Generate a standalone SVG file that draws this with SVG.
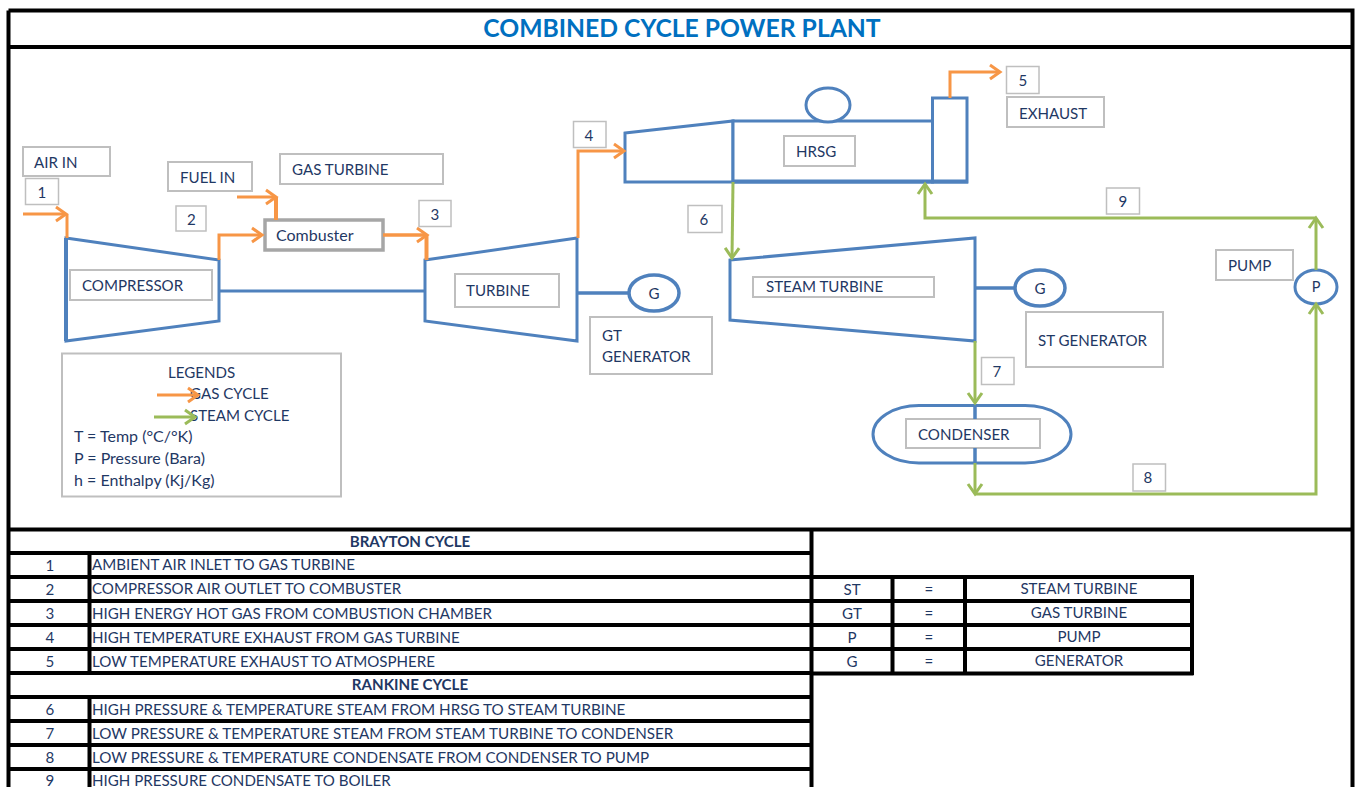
<svg xmlns="http://www.w3.org/2000/svg" width="1361" height="787" viewBox="0 0 1361 787">
<style>
text{font-family:"Lato","Open Sans","Liberation Sans",sans-serif;font-size:15.100px;fill:#1f3864}
.c{text-anchor:middle}
.b{font-weight:700}
.m{font-size:16px}
.r{font-size:15.200px}
.box{fill:#fff;stroke:#bfbfbf;stroke-width:2}
.eq{fill:#fff;stroke:#4f81bd;stroke-width:3;stroke-linejoin:miter}
.thin{fill:none;stroke:#4f81bd;stroke-width:3}
.o{fill:none;stroke:#f79646;stroke-width:3}
.g{fill:none;stroke:#9bbb59;stroke-width:3}
.ln{fill:none;stroke:#000;stroke-width:4}
</style>
<defs>
<marker id="ao" markerUnits="userSpaceOnUse" markerWidth="16" markerHeight="20" refX="13" refY="10" orient="auto"><path d="M3 3L13 10L3 17" fill="none" stroke="#f79646" stroke-width="3"/></marker>
<marker id="ag" markerUnits="userSpaceOnUse" markerWidth="16" markerHeight="20" refX="13" refY="10" orient="auto"><path d="M3 3L13 10L3 17" fill="none" stroke="#9bbb59" stroke-width="3"/></marker>
</defs>
<rect width="1361" height="787" fill="#fff"/>
<g id="frame" class="ln">
<path d="M8.500 10.500H1352.500V787M8.500 10.500V787M8 47H1353M8 529.500H1353"/>
</g>
<text id="title" x="682" y="37" class="c b" style="font-size:24.700px;fill:#0070c0">COMBINED CYCLE POWER PLANT</text>

<g id="compressor"><path class="eq" d="M66 238L219 260V321L66 341Z"/><path class="thin" d="M66 238V341" style="stroke-width:4"/><rect class="box" x="70" y="270" width="142" height="30"/><text x="82" y="291">COMPRESSOR</text></g>
<g id="combuster"><rect x="265" y="220" width="118" height="30" fill="#fff" stroke="#a6a6a6" stroke-width="3.500"/><text x="276" y="241" class="m">Combuster</text></g>
<g id="turbine"><path class="eq" d="M425 260L577 238V341L425 321Z"/><rect class="box" x="455" y="274" width="104" height="33"/><text x="466" y="296">TURBINE</text></g>
<g id="gt-generator"><ellipse class="eq" cx="654" cy="293" rx="25" ry="18" style="stroke-width:3.500"/><text x="654" y="299" class="c">G</text></g>
<g id="hrsg"><path class="eq" d="M625 133L733 121V182H625Z"/><rect class="eq" x="733" y="121" width="199.500" height="61"/><ellipse class="eq" cx="828" cy="105" rx="22" ry="17"/><rect class="eq" x="932.500" y="98" width="34.500" height="84"/><path class="thin" d="M733 181.500H968" style="stroke-width:4"/><rect class="box" x="784" y="136" width="71" height="30"/><text x="796" y="157">HRSG</text></g>
<g id="steam-turbine"><path class="eq" d="M730 260L975 238V341L730 320Z"/><rect class="box" x="753" y="277" width="181" height="20"/><text x="766" y="292">STEAM TURBINE</text></g>
<g id="st-generator"><ellipse class="eq" cx="1040" cy="288" rx="25" ry="18" style="stroke-width:3.500"/><text x="1040" y="294" class="c">G</text></g>
<g id="condenser"><rect class="eq" x="873" y="405.500" width="198" height="57.500" rx="46" ry="28.750"/><rect class="box" x="906" y="419" width="134" height="29"/><text x="918" y="440">CONDENSER</text></g>
<g id="pump"><ellipse class="eq" cx="1316" cy="287" rx="21" ry="17"/><text x="1316" y="292" class="c" style="font-size:14.500px">P</text></g>

<g id="connectors">
<path class="thin" d="M219 291H425"/>
<path class="thin" d="M578 293H629" style="stroke-width:3.500"/>
<path class="thin" d="M975 288H1015" style="stroke-width:3.500"/>
<path class="thin" d="M975 405V419M975 448V463" style="stroke-width:3.500"/>
<path class="o" d="M23 214H66" marker-end="url(#ao)"/><path class="o" d="M67 214V238"/>
<path class="o" d="M237 197H276" marker-end="url(#ao)"/><path class="o" d="M276 197V220" style="stroke-width:4"/>
<path class="o" d="M219 260V235H262" marker-end="url(#ao)"/>
<path class="o" d="M383 235H427" marker-end="url(#ao)" style="stroke-width:3.500"/><path class="o" d="M426.500 235V260" style="stroke-width:4"/>
<path class="o" d="M578 238V151H624" marker-end="url(#ao)"/>
<path class="o" d="M950 98V72H1000" marker-end="url(#ao)"/>
<path class="g" d="M733 182L732 258" marker-end="url(#ag)"/>
<path class="g" d="M975 341V403" marker-end="url(#ag)"/>
<path class="g" d="M975 463V494" marker-end="url(#ag)"/>
<path class="g" d="M975 494H1316V304" marker-end="url(#ag)"/>
<path class="g" d="M1316 270V218" marker-end="url(#ag)"/>
<path class="g" d="M1316 218H925V184" marker-end="url(#ag)"/>
</g>

<g id="label-air-in"><rect class="box" x="23" y="147" width="87" height="29"/><text x="34" y="168">AIR IN</text></g>
<g id="label-1"><rect class="box" x="25.500" y="178.500" width="33" height="26" style="stroke-width:1.500"/><text x="42" y="198" class="c">1</text></g>
<g id="label-fuel-in"><rect class="box" x="168" y="162" width="84" height="29"/><text x="180" y="183">FUEL IN</text></g>
<g id="label-gas-turbine"><rect class="box" x="280" y="154" width="163" height="30"/><text x="292" y="175">GAS TURBINE</text></g>
<g id="label-2"><rect class="box" x="176" y="206" width="30" height="25" style="stroke-width:1.500"/><text x="191.500" y="225" class="c">2</text></g>
<g id="label-3"><rect class="box" x="419" y="200.500" width="32" height="26" style="stroke-width:1.500"/><text x="435" y="220" class="c">3</text></g>
<g id="label-4"><rect class="box" x="573.500" y="121.500" width="32.500" height="26" style="stroke-width:1.500"/><text x="589" y="141" class="c">4</text></g>
<g id="label-5"><rect class="box" x="1006.500" y="66.500" width="32.500" height="27" style="stroke-width:1.500"/><text x="1023" y="86" class="c">5</text></g>
<g id="label-exhaust"><rect class="box" x="1007" y="97" width="97" height="30"/><text x="1019" y="119">EXHAUST</text></g>
<g id="label-6"><rect class="box" x="688" y="205.500" width="34" height="27" style="stroke-width:1.500"/><text x="704" y="225" class="c">6</text></g>
<g id="label-7"><rect class="box" x="981.500" y="357.500" width="32.500" height="27" style="stroke-width:1.500"/><text x="997" y="377" class="c">7</text></g>
<g id="label-8"><rect class="box" x="1133" y="464" width="32.500" height="27" style="stroke-width:1.500"/><text x="1148" y="483" class="c">8</text></g>
<g id="label-9"><rect class="box" x="1106.500" y="188" width="33" height="26" style="stroke-width:1.500"/><text x="1123" y="207" class="c">9</text></g>
<g id="label-gt-generator"><rect class="box" x="590" y="317" width="122" height="57"/><text x="602" y="341">GT</text><text x="602" y="362">GENERATOR</text></g>
<g id="label-st-generator"><rect class="box" x="1026" y="312" width="137" height="55"/><text x="1038" y="346">ST GENERATOR</text></g>
<g id="label-pump"><rect class="box" x="1216" y="250" width="77" height="30"/><text x="1228" y="271">PUMP</text></g>

<g id="legend"><rect class="box" x="62" y="353.500" width="279" height="143"/>
<text x="168" y="378">LEGENDS</text><text x="190" y="399">GAS CYCLE</text><text x="190" y="421">STEAM CYCLE</text>
<text x="74" y="442" class="m">T = Temp (°C/°K)</text><text x="74" y="464" class="m">P = Pressure (Bara)</text><text x="74" y="486" class="m">h = Enthalpy (Kj/Kg)</text>
<path class="o" d="M157 395H198" marker-end="url(#ao)"/><path class="g" d="M154 417H195" marker-end="url(#ag)"/></g>

<g id="table-cycles">
<path class="ln" d="M8 553H811M8 577H811M8 601H811M8 625H811M8 649H811M8 673H811M8 697H811M8 721H811M8 745H811M8 769H811M811.500 529V787M89.500 553V673M89.500 697V787"/>
<text x="410" y="547" class="c b">BRAYTON CYCLE</text>
<text x="50" y="571" class="c">1</text><text x="92" y="570">AMBIENT AIR INLET TO GAS TURBINE</text>
<text x="50" y="595" class="c">2</text><text x="92" y="594">COMPRESSOR AIR OUTLET TO COMBUSTER</text>
<text x="50" y="619" class="c">3</text><text x="92" y="619">HIGH ENERGY HOT GAS FROM COMBUSTION CHAMBER</text>
<text x="50" y="643" class="c">4</text><text x="92" y="643">HIGH TEMPERATURE EXHAUST FROM GAS TURBINE</text>
<text x="50" y="667" class="c">5</text><text x="92" y="667">LOW TEMPERATURE EXHAUST TO ATMOSPHERE</text>
<text x="410" y="690" class="c b">RANKINE CYCLE</text>
<text x="50" y="715" class="c">6</text><text x="92" y="715" class="r">HIGH PRESSURE &amp; TEMPERATURE STEAM FROM HRSG TO STEAM TURBINE</text>
<text x="50" y="739" class="c">7</text><text x="92" y="739" class="r">LOW PRESSURE &amp; TEMPERATURE STEAM FROM STEAM TURBINE TO CONDENSER</text>
<text x="50" y="763" class="c">8</text><text x="92" y="763" class="r">LOW PRESSURE &amp; TEMPERATURE CONDENSATE FROM CONDENSER TO PUMP</text>
<text x="50" y="786" class="c">9</text><text x="92" y="786">HIGH PRESSURE CONDENSATE TO BOILER</text>
</g>
<g id="table-abbreviations">
<path class="ln" d="M811 577H1193.500M811 601H1193M811 625H1193M811 649H1193M811 673.500H1193.500M892.500 577V673M965 577V673M1192 575V675"/>
<text x="852" y="595" class="c">ST</text><text x="929" y="595" class="c">=</text><text x="1079" y="594" class="c">STEAM TURBINE</text>
<text x="852" y="619" class="c">GT</text><text x="929" y="619" class="c">=</text><text x="1079" y="618" class="c">GAS TURBINE</text>
<text x="852" y="643" class="c">P</text><text x="929" y="643" class="c">=</text><text x="1079" y="642" class="c">PUMP</text>
<text x="852" y="667" class="c">G</text><text x="929" y="667" class="c">=</text><text x="1079" y="666" class="c">GENERATOR</text>
</g>
</svg>
